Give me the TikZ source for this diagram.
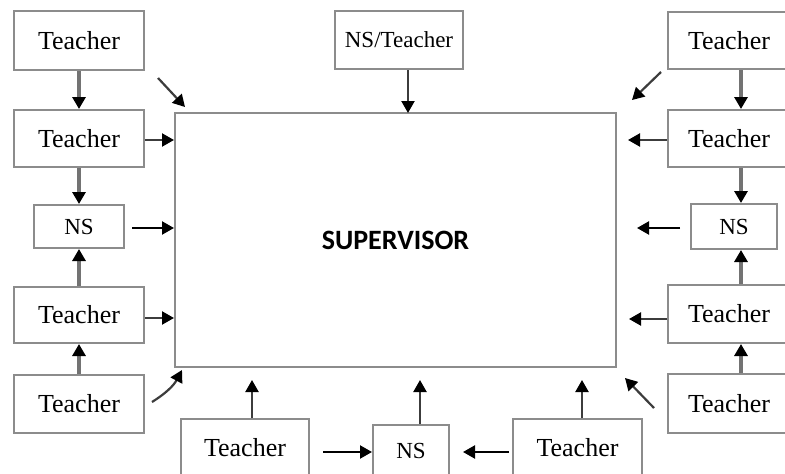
\documentclass[tikz,border=0pt]{standalone}
\usepackage{fontspec}
\setmainfont{Liberation Serif}
\newfontfamily\supfont{Carlito}
\usetikzlibrary{arrows.meta}
\definecolor{edgegray}{RGB}{140,140,140}
\definecolor{shaftgray}{RGB}{115,115,115}
\definecolor{shaftdark}{RGB}{60,60,60}

\begin{document}
\begin{tikzpicture}[x=1pt,y=-1pt,
                    >={Triangle[length=12pt,width=13pt,color=black]},
                    tbox/.style={draw=edgegray,line width=2pt,fill=white,inner sep=0pt,
                                 font=\fontsize{26}{29}\selectfont},
                    nsbox/.style={tbox,font=\fontsize{23}{26}\selectfont},
                    link/.style={->,draw=shaftgray,line width=3.5pt},
                    feed/.style={->,draw=shaftdark,line width=2.2pt}]
\clip (0,0) rectangle (785,474);
\fill[white] (0,0) rectangle (785,474);

\node[tbox,minimum width=441pt,minimum height=254pt] (sup) at (395.5,240)
     {\supfont\bfseries\fontsize{28}{31}\selectfont SUPERVISOR};

\node[tbox,minimum width=130pt,minimum height=59pt] (l1) at (79,40.5) {Teacher};
\node[tbox,minimum width=130pt,minimum height=57pt] (l2) at (79,138.5) {Teacher};
\node[nsbox,minimum width=90pt,minimum height=43pt] (l3) at (79,226.5) {NS};
\node[tbox,minimum width=130pt,minimum height=56pt] (l4) at (79,315) {Teacher};
\node[tbox,minimum width=130pt,minimum height=58pt] (l5) at (79,404) {Teacher};

\node[nsbox,font=\fontsize{23}{26}\selectfont,minimum width=128pt,minimum height=58pt] (t) at (399,40) {NS/Teacher};

\node[tbox,minimum width=122pt,minimum height=57pt] (r1) at (729,40.5) {Teacher};
\node[tbox,minimum width=122pt,minimum height=57pt] (r2) at (729,138.5) {Teacher};
\node[nsbox,minimum width=86pt,minimum height=45pt] (r3) at (734,226.5) {NS};
\node[tbox,minimum width=122pt,minimum height=58pt] (r4) at (729,314) {Teacher};
\node[tbox,minimum width=122pt,minimum height=59pt] (r5) at (729,403.5) {Teacher};

\node[tbox,minimum width=128pt,minimum height=58pt] (b1) at (245,448) {Teacher};
\node[nsbox,minimum width=76pt,minimum height=52pt] (b2) at (411,451) {NS};
\node[tbox,minimum width=129pt,minimum height=58pt] (b3) at (577.5,448) {Teacher};

\coordinate (l1a) at (158,78);   \coordinate (l1b) at (185,107);
\coordinate (l3a) at (132,228);
\coordinate (l5a) at (152,402);  \coordinate (l5b) at (182,370);
\coordinate (ta)  at (408,113);
\coordinate (r1a) at (661,72);   \coordinate (r1b) at (632,100);
\coordinate (r2a) at (628,140);
\coordinate (r3a) at (680,228);  \coordinate (r3b) at (637,228);
\coordinate (r4a) at (629,319);
\coordinate (r5a) at (654,408);  \coordinate (r5b) at (625,378);
\coordinate (b1a) at (252,380);
\coordinate (b1b) at (323,452);
\coordinate (b2a) at (420,380);
\coordinate (b3a) at (582,380);
\coordinate (b3b) at (509,452);  \coordinate (b3c) at (463,452);

\draw[link] (l1) -- (l2);
\draw[link] (l2) -- (l3);
\draw[link] (l4) -- (l3);
\draw[link] (l5) -- (l4);
\draw[link] ([xshift=12pt]r1.south) -- ([xshift=12pt]r2.north);
\draw[link] ([xshift=12pt]r2.south) -- ([xshift=7pt]r3.north);
\draw[link] ([xshift=12pt]r4.north) -- ([xshift=7pt]r3.south);
\draw[link] ([xshift=12pt]r5.north) -- ([xshift=12pt]r4.south);

\draw[feed] (l1a) -- (l1b);
\draw[feed] ([yshift=-1.5pt]l2.east) -- ([yshift=-1.5pt]l2.east -| sup.west);
\draw[feed,black] (l3a) -- (l3a -| sup.west);
\draw[feed] ([yshift=-3pt]l4.east) -- ([yshift=-3pt]l4.east -| sup.west);
\draw[feed] (l5a) to[bend right=15] (l5b);
\draw[feed] ([xshift=9pt]t.south) -- (ta);
\draw[feed] (r1a) -- (r1b);
\draw[feed] ([yshift=-1.5pt]r2.west) -- (r2a);
\draw[feed,black] (r3a) -- (r3b);
\draw[feed] ([yshift=-5pt]r4.west) -- (r4a);
\draw[feed] (r5a) -- (r5b);
\draw[feed] ([xshift=7pt]b1.north) -- (b1a);
\draw[feed] ([xshift=9pt]b2.north) -- (b2a);
\draw[feed] ([xshift=4.5pt]b3.north) -- (b3a);
\draw[feed,black] (b1b) -- (b1b -| b2.west);
\draw[feed,black] (b3b) -- (b3c);
\end{tikzpicture}
\end{document}
